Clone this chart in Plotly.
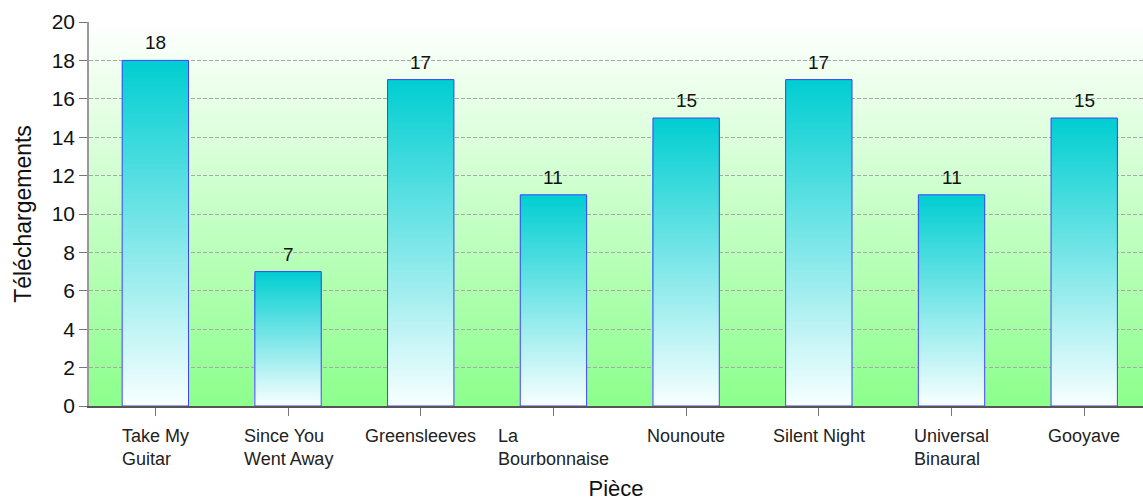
import base64
import plotly.graph_objects as go

# Downloads per piece
pieces = ["Take My Guitar", "Since You Went Away", "Greensleeves", "La Bourbonnaise",
          "Nounoute", "Silent Night", "Universal Binaural", "Gooyave"]
tick_labels = ["Take My<br>Guitar", "Since You<br>Went Away", "Greensleeves", "La<br>Bourbonnaise",
               "Nounoute", "Silent Night", "Universal<br>Binaural", "Gooyave"]
downloads = [18, 7, 17, 11, 15, 17, 11, 15]

FONT = "Liberation Sans, Arial, sans-serif"
TOP_RGB = (0, 206, 209)      # bar colour at the top
BOTTOM_RGB = (248, 255, 255)  # bar colour at the base
N_SLICES = 120


def mix(a, b, t):
    return "rgb(%d,%d,%d)" % tuple(round(a[i] + (b[i] - a[i]) * t) for i in range(3))


# Vertical gradient for each bar: nested bars from the base, tallest drawn first,
# each shorter one painted on top with a lighter colour
sx, sy, scol = [], [], []
for k in range(N_SLICES):
    frac = (N_SLICES - k) / N_SLICES
    t = (N_SLICES - k - 0.5) / N_SLICES
    for p, v in zip(pieces, downloads):
        sx.append(p)
        sy.append(v * frac)
        scol.append(mix(BOTTOM_RGB, TOP_RGB, t))

fig = go.Figure()
fig.add_trace(go.Bar(
    x=sx, y=sy, width=0.5,
    marker=dict(color=scol, line=dict(width=0)),
    hoverinfo="skip", showlegend=False,
))
# Outline of each bar
fig.add_trace(go.Bar(
    x=pieces, y=downloads, width=0.5,
    marker=dict(color="rgba(0,0,0,0)", line=dict(color="rgb(64,64,255)", width=1)),
    showlegend=False,
))

# Value labels above the bars
for p, v in zip(pieces, downloads):
    fig.add_annotation(x=p, y=v, text=str(v), showarrow=False, yanchor="bottom",
                       yshift=5, font=dict(family=FONT, size=19, color="#111"))

# Category labels: block centred under the tick, lines left-aligned
for p, lab in zip(pieces, tick_labels):
    fig.add_annotation(x=p, y=0, yref="paper", yshift=-18, text=lab, showarrow=False,
                       yanchor="top", align="left",
                       font=dict(family=FONT, size=18, color="#222"))

# Plot-area background: white at the top fading to green at the bottom
svg = ('<svg xmlns="http://www.w3.org/2000/svg" width="100" height="100" preserveAspectRatio="none">'
       '<defs><linearGradient id="g" x1="0" y1="0" x2="0" y2="1">'
       '<stop offset="0" stop-color="#ffffff"/><stop offset="1" stop-color="#8cff8c"/>'
       '</linearGradient></defs><rect width="100" height="100" fill="url(#g)"/></svg>')
bg_src = "data:image/svg+xml;base64," + base64.b64encode(svg.encode()).decode()
fig.add_layout_image(source=bg_src, xref="paper", yref="paper", x=0, y=1,
                     sizex=1, sizey=1, sizing="stretch", layer="below",
                     xanchor="left", yanchor="top")

fig.update_layout(
    width=1143, height=501,
    margin=dict(l=89, r=0, t=22, b=95),
    paper_bgcolor="white", plot_bgcolor="rgba(0,0,0,0)",
    barmode="overlay", bargap=0.5,
    font=dict(family=FONT, color="#111"),
    xaxis=dict(
        type="category", categoryorder="array", categoryarray=pieces,
        range=[-0.5, 7.443],
        showticklabels=False, ticks="outside", ticklen=8, tickcolor="#777",
        showline=True, linecolor="#555", linewidth=1.5, showgrid=False,
        title=dict(text="Pièce", font=dict(family=FONT, size=22, color="#111"), standoff=69),
    ),
    yaxis=dict(
        range=[0, 20], dtick=2, ticks="outside", ticklen=8, tickcolor="#777",
        showline=True, linecolor="#999", linewidth=1.5,
        showgrid=True, gridcolor="#a8a8a8", griddash="4px,2px", gridwidth=1,
        zeroline=False,
        tickfont=dict(family=FONT, size=21, color="#111"),
        title=dict(text="Téléchargements", font=dict(family=FONT, size=23, color="#111"), standoff=14),
    ),
)

fig.write_html("out.html")
